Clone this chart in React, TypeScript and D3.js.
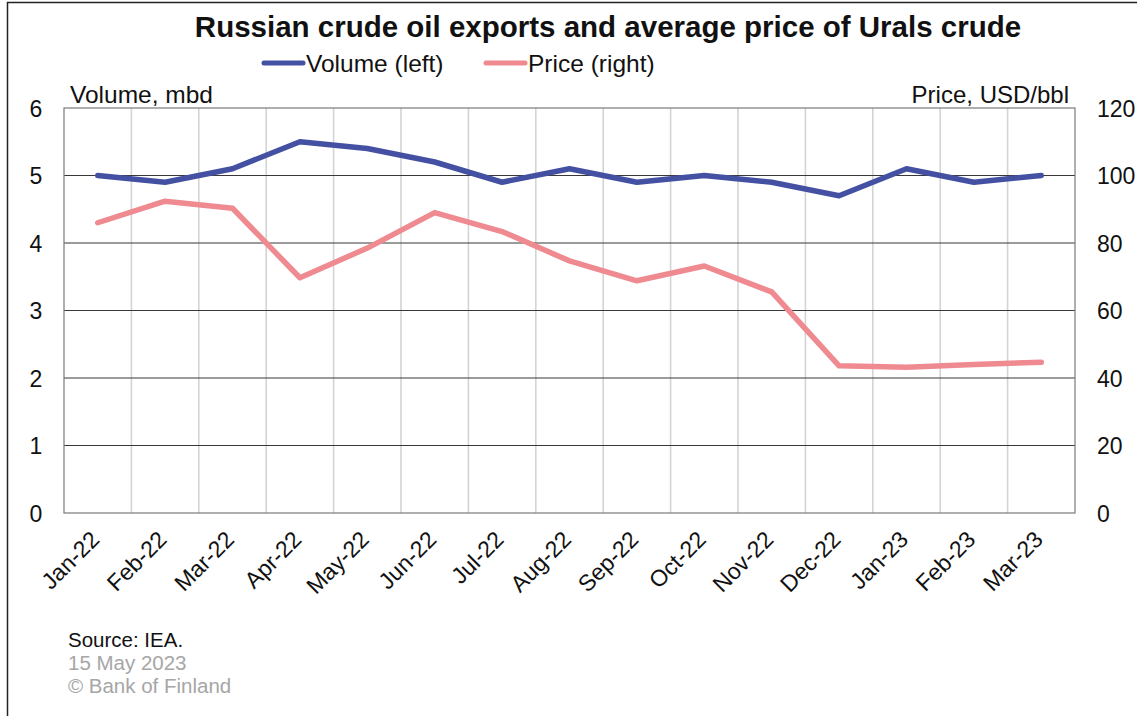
import React from "react";
import * as d3 from "d3";

const categories = ["Jan-22","Feb-22","Mar-22","Apr-22","May-22","Jun-22","Jul-22","Aug-22","Sep-22","Oct-22","Nov-22","Dec-22","Jan-23","Feb-23","Mar-23"];
const volume = [5.0, 4.9, 5.1, 5.5, 5.4, 5.2, 4.9, 5.1, 4.9, 5.0, 4.9, 4.7, 5.1, 4.9, 5.0];
const price = [86.0, 92.4, 90.3, 69.7, 78.5, 89.0, 83.4, 74.7, 68.8, 73.2, 65.5, 43.6, 43.2, 44.0, 44.7];
const leftTicks = [0, 1, 2, 3, 4, 5, 6];
const rightTicks = [0, 20, 40, 60, 80, 100, 120];

const W = 1137, H = 716;
const left = 64, right = 1075, top = 108, bottom = 513;
const BLUE = "#4451a3";
const PINK = "#ef8a90";
const FONT = "Liberation Sans, Arial, sans-serif";

export default function App() {
  const x = d3.scaleBand<string>().domain(categories).range([left, right]);
  const yL = d3.scaleLinear().domain([0, 6]).range([bottom, top]);
  const yR = d3.scaleLinear().domain([0, 120]).range([bottom, top]);
  const cx = (c: string) => (x(c) as number) + x.bandwidth() / 2;
  const lineV = d3.line<number>().x((_, i) => cx(categories[i])).y(d => yL(d));
  const lineP = d3.line<number>().x((_, i) => cx(categories[i])).y(d => yR(d));

  return (
    <svg width={W} height={H} style={{ position: "absolute", left: 0, top: 0, background: "#fff" }} fontFamily={FONT}>
      <rect x={7.5} y={2.5} width={W + 10} height={H + 10} fill="none" stroke="#222" strokeWidth={1.5} />
      <text x={608} y={37} textAnchor="middle" fontSize={29.5} fontWeight="bold" fill="#111">Russian crude oil exports and average price of Urals crude</text>
      {/* legend */}
      <line x1={264} x2={303} y1={63} y2={63} stroke={BLUE} strokeWidth={5} strokeLinecap="round" />
      <text x={306} y={72} fontSize={24.5} fill="#111">Volume (left)</text>
      <line x1={486} x2={525} y1={63} y2={63} stroke={PINK} strokeWidth={5} strokeLinecap="round" />
      <text x={528} y={72} fontSize={24.5} fill="#111">Price (right)</text>
      {/* axis titles */}
      <text x={70} y={103} fontSize={24.5} fill="#111">Volume, mbd</text>
      <text x={1069} y={103} fontSize={24} fill="#111" textAnchor="end">Price, USD/bbl</text>
      {/* vertical grid */}
      {categories.slice(1).map(c => (
        <line key={c} x1={x(c)} x2={x(c)} y1={top} y2={bottom} stroke="#d4d4d4" strokeWidth={1.6} />
      ))}
      {/* horizontal grid */}
      {leftTicks.slice(1, -1).map(t => (
        <line key={t} x1={left} x2={right} y1={yL(t)} y2={yL(t)} stroke="#383838" strokeWidth={1.1} />
      ))}
      <rect x={left} y={top} width={right - left} height={bottom - top} fill="none" stroke="#7a7a7a" strokeWidth={1.2} />
      {/* left ticks */}
      {leftTicks.map(t => (
        <text key={t} x={36} y={yL(t) + 8.5} fontSize={23} textAnchor="middle" fill="#111">{t}</text>
      ))}
      {rightTicks.map(t => (
        <text key={t} x={1097} y={yR(t) + 8.5} fontSize={23} fill="#111">{t}</text>
      ))}
      {/* x labels */}
      {categories.map(c => (
        <text key={c} transform={`translate(${cx(c) + 3},${bottom + 28}) rotate(-45)`} textAnchor="end" fontSize={23} fill="#111">{c}</text>
      ))}
      {/* lines */}
      <path d={lineP(price) || ""} fill="none" stroke={PINK} strokeWidth={5.5} strokeLinejoin="round" strokeLinecap="round" />
      <path d={lineV(volume) || ""} fill="none" stroke={BLUE} strokeWidth={5.5} strokeLinejoin="round" strokeLinecap="round" />
      {/* footer */}
      <text x={68} y={647} fontSize={20.5} fill="#111">Source: IEA.</text>
      <text x={68} y={670} fontSize={20.5} fill="#a6a6a6">15 May 2023</text>
      <text x={68} y={693} fontSize={20.5} fill="#a6a6a6">© Bank of Finland</text>
    </svg>
  );
}
